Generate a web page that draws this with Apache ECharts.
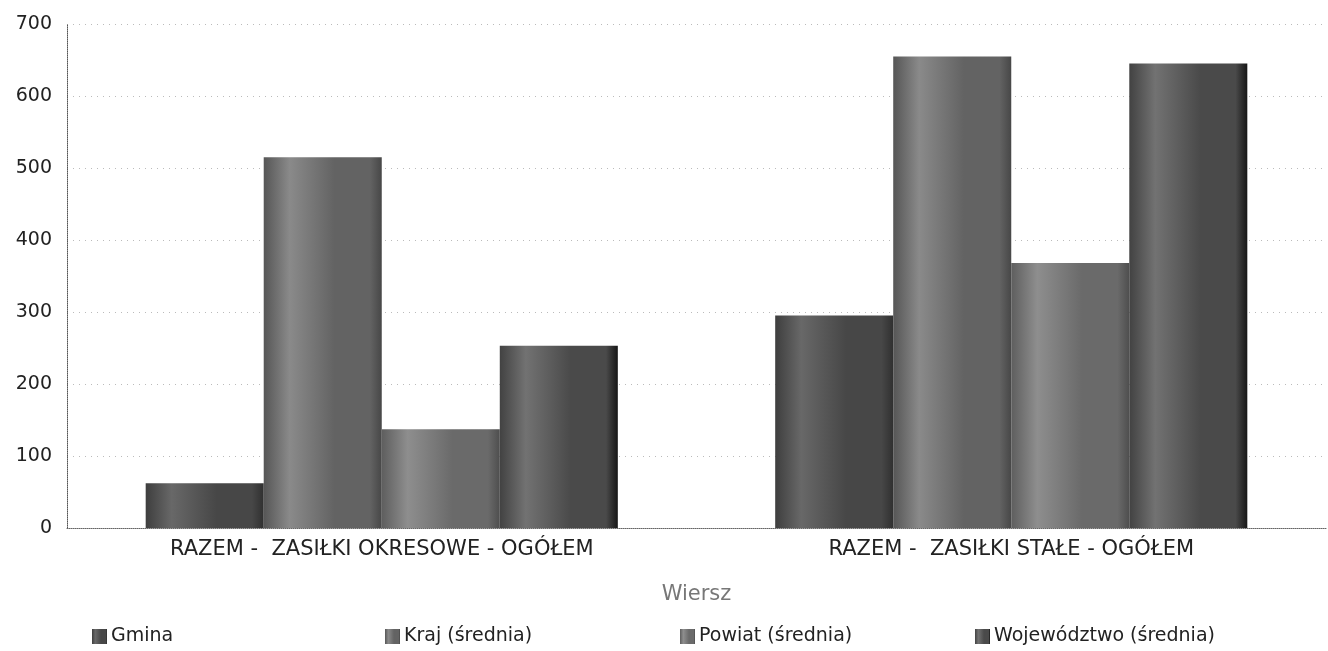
<!DOCTYPE html>
<html>
<head>
<meta charset="utf-8">
<script src="https://cdn.jsdelivr.net/npm/echarts@6/dist/echarts.min.js"></script>
<style>
  html, body { margin: 0; padding: 0; background: #fff; }
  #chart { width: 1328px; height: 651px; }
</style>
</head>
<body>
<div id="chart"></div>
<script>
// Categories (rows) and the four compared series
const categories = ['RAZEM -  ZASIŁKI OKRESOWE - OGÓŁEM', 'RAZEM -  ZASIŁKI STAŁE - OGÓŁEM'];
const seriesNames = ['Gmina', 'Kraj (średnia)', 'Powiat (średnia)', 'Województwo (średnia)'];
const gmina = [62, 295];
const kraj = [515, 655];
const powiat = [137, 368];
const wojewodztwo = [253, 645];
const yTicks = [0, 100, 200, 300, 400, 500, 600, 700];

const seriesValues = [gmina, kraj, powiat, wojewodztwo];

// Grey cylinder-like shading per series: [left, light streak, middle, right edge]
const shades = [
  ['#3e3e3e', '#686868', '#474747', '#303030'],
  ['#565656', '#8a8a8a', '#636363', '#474747'],
  ['#5e5e5e', '#8e8e8e', '#6a6a6a', '#4e4e4e'],
  ['#424242', '#727272', '#4a4a4a', '#161616']
];

function shadeFill(s) {
  return new echarts.graphic.LinearGradient(0, 0, 1, 0, [
    { offset: 0, color: s[0] },
    { offset: 0.22, color: s[1] },
    { offset: 0.6, color: s[2] },
    { offset: 0.9, color: s[2] },
    { offset: 1, color: s[3] }
  ]);
}

const chart = echarts.init(document.getElementById('chart'), null, { renderer: 'canvas' });

const legendLeft = [87, 380, 675, 970];

const option = {
  animation: false,
  backgroundColor: '#ffffff',
  textStyle: { fontFamily: 'DejaVu Sans' },
  grid: { left: 67, right: 2, top: 24, bottom: 123, containLabel: false },
  legend: seriesNames.map((name, i) => ({
    data: [name],
    left: legendLeft[i],
    top: 622,
    itemWidth: 15,
    itemHeight: 15,
    itemGap: 4,
    icon: 'rect',
    textStyle: { fontSize: 19, color: '#222', fontFamily: 'DejaVu Sans', padding: [0, 0, 0, -1] }
  })),
  xAxis: {
    type: 'category',
    data: categories,
    name: 'Wiersz',
    nameLocation: 'middle',
    nameGap: 56,
    nameTextStyle: { fontSize: 21, color: '#777', fontFamily: 'DejaVu Sans' },
    axisLine: { show: true, lineStyle: { color: '#666', type: 'dotted', width: 1 } },
    axisTick: { show: false },
    axisLabel: { fontSize: 21, color: '#222', margin: 11, fontFamily: 'DejaVu Sans' }
  },
  yAxis: {
    type: 'value',
    min: yTicks[0],
    max: yTicks[yTicks.length - 1],
    interval: 100,
    axisLine: { show: true, lineStyle: { color: '#555', type: 'dotted', width: 1 } },
    axisTick: { show: false },
    axisLabel: { fontSize: 19, color: '#222', margin: 15, fontFamily: 'DejaVu Sans' },
    splitLine: { show: true, lineStyle: { color: '#bbb', type: [1, 5], width: 1 } }
  },
  series: seriesNames.map((name, i) => ({
    name: name,
    type: 'bar',
    data: seriesValues[i],
    barGap: '0%',
    barCategoryGap: '25%',
    itemStyle: { color: shadeFill(shades[i]) }
  }))
};

chart.setOption(option);
</script>
</body>
</html>
